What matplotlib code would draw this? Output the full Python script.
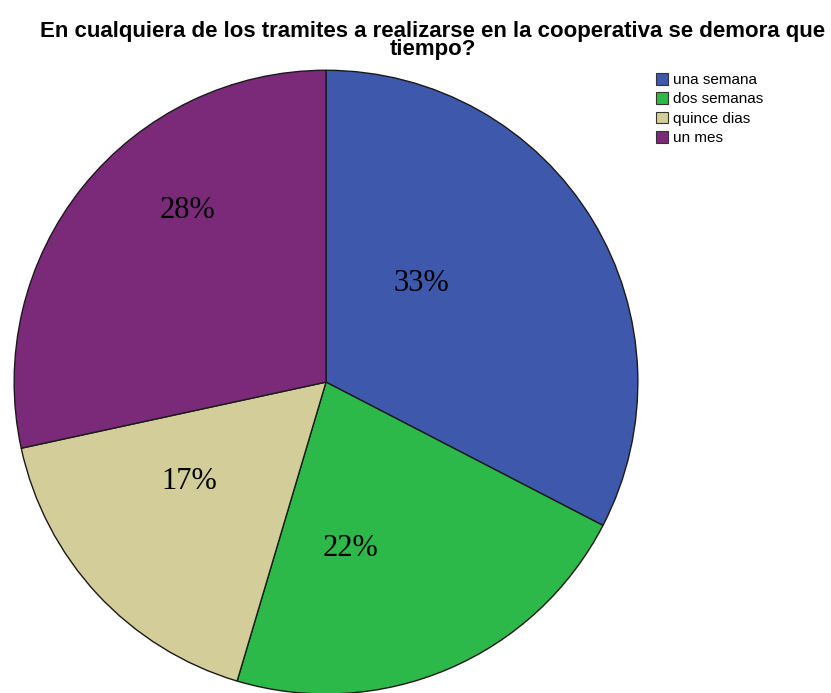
import matplotlib.pyplot as plt
from matplotlib.patches import Patch

# datos del grafico
categorias = ['una semana', 'dos semanas', 'quince dias', 'un mes']
porcentajes = [32.6, 22.0, 17.0, 28.4]
etiquetas = ['33%', '22%', '17%', '28%']
colores = ['#3e58ac', '#2db84a', '#d3ce99', '#7b2a7a']
titulo = 'En cualquiera de los tramites a realizarse en la cooperativa se demora que\ntiempo?'

# posicion de cada etiqueta dentro del pie (x, y en radios)
pos_etiquetas = [(0.305, 0.315), (0.08, -0.535), (-0.44, -0.32), (-0.445, 0.55)]

fig = plt.figure(figsize=(8.31, 6.93), dpi=100)
ax = fig.add_axes([0.0168, -0.0014, 0.751, 0.900])

wedges, _ = ax.pie(porcentajes, colors=colores, startangle=90, counterclock=False,
                   wedgeprops={'edgecolor': '#1a1a1a', 'linewidth': 1.0})
ax.set_xlim(-1, 1)
ax.set_ylim(-1, 1)
ax.set_aspect('equal')
for w in wedges:
    w.set_clip_on(False)

for txt, (x, y) in zip(etiquetas, pos_etiquetas):
    ax.text(x, y, txt, ha='center', va='center', fontsize=22,
            family='Liberation Serif', color='black')

fig.text(0.521, 0.969, titulo, ha='center', va='top', fontsize=16,
         fontweight='bold', family='Liberation Sans', linespacing=0.8)

handles = [Patch(facecolor=c, edgecolor='#333333', linewidth=0.8) for c in colores]
fig.legend(handles, categorias, loc='upper left', bbox_to_anchor=(0.7876, 0.897),
           frameon=False, prop={'family': 'Liberation Sans', 'size': 11},
           handlelength=0.8, handleheight=0.8, handletextpad=0.33,
           labelspacing=0.34, borderpad=0.1, borderaxespad=0)

plt.savefig('out.png', dpi=100, facecolor='white')
